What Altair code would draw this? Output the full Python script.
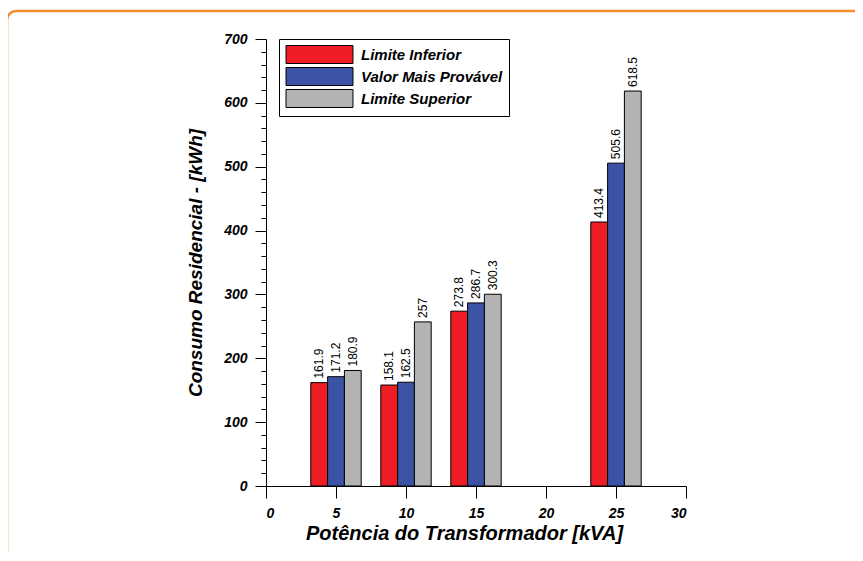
import altair as alt
import pandas as pd

# ---- data ----
kva = [5, 10, 15, 25]
series = ["Limite Inferior", "Valor Mais Provável", "Limite Superior"]
limite_inferior = [161.9, 158.1, 273.8, 413.4]
valor_provavel = [171.2, 162.5, 286.7, 505.6]
limite_superior = [180.9, 257.0, 300.3, 618.5]
colors = ["#EE1D25", "#3A53A4", "#B3B3B3"]
x_ticks = [0, 5, 10, 15, 20, 25, 30]
y_ticks = list(range(0, 701, 20))

rows = []
for si, (name, vals) in enumerate(zip(series, [limite_inferior, valor_provavel, limite_superior])):
    for k, v in zip(kva, vals):
        rows.append({"kva": k, "serie": name, "ordem": si, "valor": v, "rotulo": f"{v:g}"})
df = pd.DataFrame(rows)

BAR_W = 1.2
FONT = "Liberation Sans"

base = alt.Chart(df).transform_calculate(
    x0=f"datum.kva + (datum.ordem - 1) * {BAR_W} - {BAR_W / 2}",
    x1=f"datum.kva + (datum.ordem - 1) * {BAR_W} + {BAR_W / 2}",
    xc=f"datum.kva + (datum.ordem - 1) * {BAR_W}",
    base0="0",
)

x_axis = alt.Axis(
    values=x_ticks, tickCount=50, format="d", grid=False, tickSize=12,
    tickColor="black", domainColor="black",
    labelFont=FONT, labelFontSize=14, labelFontWeight="bold", labelFontStyle="italic",
    labelColor="black", labelPadding=8, labelOverlap=False,
    titleFont=FONT, titleFontSize=20, titleFontWeight="bold", titleFontStyle="italic",
    titleColor="black", titlePadding=3, titleX=198, titleAlign="center",
)
y_axis = alt.Axis(
    values=y_ticks, tickCount=100, format="d", grid=False, tickColor="black", domainColor="black",
    tickSize={"condition": {"test": "datum.value % 100 === 0", "value": 11}, "value": 5},
    labelExpr="datum.value % 100 === 0 ? datum.label : ''",
    labelOverlap=False,
    labelFont=FONT, labelFontSize=14, labelFontWeight="bold", labelFontStyle="italic",
    labelColor="black", labelPadding=8,
    titleFont=FONT, titleFontSize=19, titleFontWeight="bold", titleFontStyle="italic",
    titleColor="black", titlePadding=18,
)

bars = base.mark_bar(stroke="black", strokeWidth=1, opacity=1).encode(
    x=alt.X("x0:Q", scale=alt.Scale(domain=[0, 30], nice=False, zero=False),
            axis=x_axis, title="Potência do Transformador [kVA]"),
    x2="x1:Q",
    y=alt.Y("valor:Q", scale=alt.Scale(domain=[0, 700], nice=False),
            axis=y_axis, title="Consumo Residencial - [kWh]"),
    y2="base0:Q",
    color=alt.Color(
        "serie:N", scale=alt.Scale(domain=series, range=colors), title=None,
        legend=alt.Legend(
            orient="none", legendX=13, legendY=0, direction="vertical",
            symbolType="M-3.72,-1H3.72V1H-3.72Z", symbolSize=324, symbolOffset=25,
            symbolStrokeColor="black", symbolStrokeWidth=1, symbolOpacity=1,
            labelFont=FONT, labelFontSize=15, labelFontWeight="bold",
            labelFontStyle="italic", labelColor="black", labelLimit=300, labelOffset=32,
            strokeColor="black", fillColor="white", padding=6, rowPadding=-1,
        ),
    ),
)

labels = base.mark_text(
    angle=270, align="left", baseline="middle", dx=4, font=FONT, fontSize=12, color="black"
).encode(x="xc:Q", y="valor:Q", text="rotulo:N")

frame = alt.Chart(pd.DataFrame({"f": [0]})).mark_rect(
    fillOpacity=0, stroke="#F68B2C", strokeWidth=2.5, cornerRadius=9
).encode(x=alt.value(-259), x2=alt.value(620), y=alt.value(-28), y2=alt.value(540))

chart = alt.layer(frame, bars, labels).properties(
    width=420, height=447,
    autosize=alt.AutoSizeParams(type="none"),
    padding={"left": 258, "top": 31, "right": 169, "bottom": 67},
    background="white",
).configure_view(strokeWidth=0)

chart.save("out.html", embed_options={"renderer": "svg", "actions": False})
